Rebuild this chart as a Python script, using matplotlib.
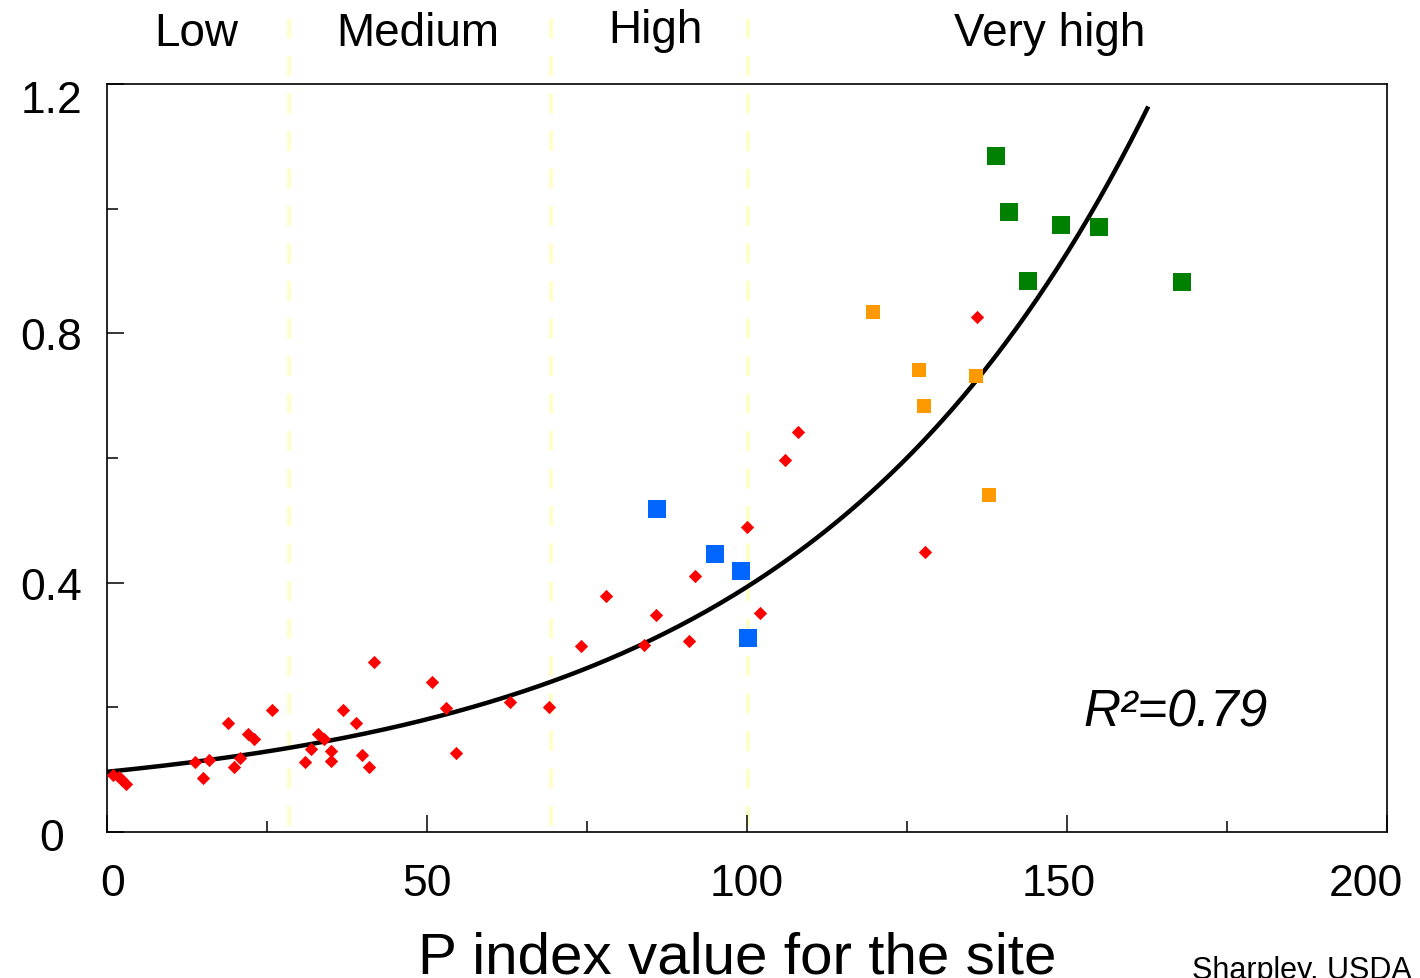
import numpy as np
import matplotlib
matplotlib.use("Agg")
import matplotlib.pyplot as plt
from matplotlib.transforms import ScaledTranslation

plt.rcParams['font.family'] = ['Liberation Sans', 'DejaVu Sans']

# data
red_x = [1.0, 1.8, 2.3, 3.0, 13.8, 15.0, 16.0, 18.9, 19.9, 20.8, 22.0, 22.9, 25.8,
         31.0, 31.9, 32.9, 33.9, 35.0, 35.0, 36.9, 38.9, 39.8, 40.9, 41.7, 50.8,
         52.9, 54.6, 63.0, 69.0, 74.0, 78.0, 83.9, 85.8, 91.0, 91.8, 100.0, 102.0,
         105.9, 107.9, 127.8, 136.0]
red_y = [0.091, 0.088, 0.084, 0.077, 0.112, 0.086, 0.1155, 0.175, 0.105, 0.118, 0.157,
         0.150, 0.196, 0.113, 0.133, 0.157, 0.150, 0.130, 0.114, 0.196, 0.175, 0.124,
         0.105, 0.273, 0.240, 0.199, 0.127, 0.208, 0.201, 0.298, 0.378, 0.300, 0.348,
         0.307, 0.411, 0.489, 0.351, 0.596, 0.641, 0.450, 0.826]
blue_x = [86.0, 95.0, 99.1, 100.2]
blue_y = [0.518, 0.4455, 0.418, 0.311]
orange_x = [119.7, 126.8, 135.8, 127.65, 137.8]
orange_y = [0.834, 0.741, 0.732, 0.684, 0.541]
green_x = [138.95, 141.0, 149.1, 155.05, 143.95, 168.0]
green_y = [1.084, 0.994, 0.973, 0.970, 0.8835, 0.882]

# class boundaries and names
bounds = [28.5, 69.4, 100.2]
classes = ["Low", "Medium", "High", "Very high"]
class_x = [196, 418, 655, 1050]   # label centres (px)

# trend line y = c + a*exp(b*x) as drawn
trend_c, trend_a, trend_b = 0.0413, 0.05534, 0.0185
trend_end = 162.7

W, H = 1420, 979
fig = plt.figure(figsize=(W / 100, H / 100), dpi=100)
ax = fig.add_axes([107 / W, 1 - 833 / H, (1387 - 107) / W, (833 - 85) / H])
ax.set_xlim(0, 200)
ax.set_ylim(0, 1.2)

# dashed class lines, sticking out above the plot
for b in bounds:
    ax.plot([b, b], [0.01, 1.31], color='#ffffcc', lw=3,
            linestyle=(0, (4.8, 4.2)), clip_on=False, zorder=1)

xs = np.linspace(0, trend_end, 300)
ax.plot(xs, trend_c + trend_a * np.exp(trend_b * xs), color='black', lw=3.2, zorder=2,
        solid_capstyle='butt')

ax.scatter(red_x, red_y, marker='D', s=46, color='#ff0000', linewidths=0, zorder=3)
ax.scatter(blue_x, blue_y, marker='s', s=150, color='#0066ff', linewidths=0, zorder=3)
ax.scatter(orange_x, orange_y, marker='s', s=110, color='#ff9900', linewidths=0, zorder=3)
ax.scatter(green_x, green_y, marker='s', s=150, color='#008000', linewidths=0, zorder=3)

for s in ax.spines.values():
    s.set_linewidth(1.2)

ax.set_xticks([0, 50, 100, 150, 200])
ax.set_xticks([25, 75, 125, 175], minor=True)
ax.set_yticks([0, 0.4, 0.8, 1.2])
ax.set_yticks([0.2, 0.6, 1.0], minor=True)
ax.set_yticklabels(["0", "0.4", "0.8", "1.2"])
ax.tick_params(which='both', direction='in', width=1.1)
ax.tick_params(which='major', length=12)
ax.tick_params(which='minor', length=8)
ax.tick_params(axis='x', which='major', labelsize=32, pad=22)
ax.tick_params(axis='y', which='major', labelsize=32, pad=40)

# y labels are centred, the top one sits a bit low
yshift = [-2, 0, 0, -12]
for lab, dy in zip(ax.get_yticklabels(), yshift):
    lab.set_horizontalalignment('center')
    lab.set_transform(lab.get_transform() + ScaledTranslation(0, dy / 100, fig.dpi_scale_trans))

# nudge some x labels like the original
shifts = [6, 0, 0, -8, -21]
for lab, dx in zip(ax.get_xticklabels(), shifts):
    lab.set_transform(lab.get_transform() + ScaledTranslation(dx / 100, 0, fig.dpi_scale_trans))

fig.text(418 / W, 1 - 974 / H, "P index value for the site", fontsize=42,
         ha='left', va='baseline')

for name, cx in zip(classes, class_x):
    base = 43 if name == "High" else 46
    fig.text(cx / W, 1 - base / H, name, fontsize=33, ha='center', va='baseline')

fig.text(1083 / W, 1 - 727 / H, "R\u00b2=0.79", fontsize=37, style='italic',
         ha='left', va='baseline')
fig.text(1192 / W, 1 - 979 / H, "Sharpley, USDA", fontsize=22, ha='left', va='baseline')

fig.savefig("out.png", dpi=100)
